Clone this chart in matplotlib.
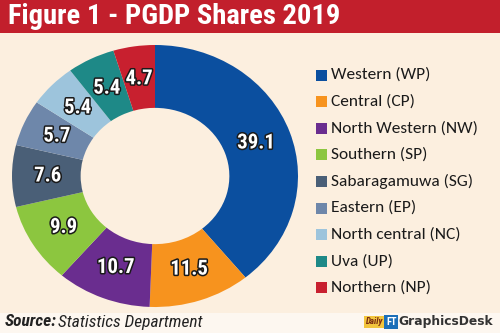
import matplotlib
matplotlib.use("Agg")
import matplotlib.pyplot as plt
import matplotlib.patheffects as pe
from matplotlib.patches import Rectangle

regions = ["Western (WP)", "Central (CP)", "North Western (NW)", "Southern (SP)",
           "Sabaragamuwa (SG)", "Eastern (EP)", "North central (NC)", "Uva (UP)",
           "Northern (NP)"]
shares = [39.1, 11.5, 10.7, 9.9, 7.6, 5.7, 5.4, 5.4, 4.7]
colors = ["#0b4f9f", "#f7931e", "#6a2d8f", "#8cc63f", "#4a5f77", "#6e87aa",
          "#9dc4dc", "#1e8987", "#c8202f"]
title = "Figure 1 - PGDP Shares 2019"

COND = ["Roboto Condensed", "Barlow Condensed", "DejaVu Sans"]
LEG = ["Carlito", "Lato", "DejaVu Sans"]

W, H = 500, 333
fig = plt.figure(figsize=(W / 100, H / 100), dpi=100)
fig.patch.set_facecolor("#fcefdf")

# banner
fig.patches.append(Rectangle((0, 1 - 33 / H), 1, 33 / H, transform=fig.transFigure,
                             facecolor="#c21f2c", edgecolor="none", zorder=0))
fig.text(8 / W, 1 - 17 / H, title, color="white", fontsize=20.5, fontweight="bold",
         family=COND, stretch="condensed", va="center", ha="left")
# footer
fig.patches.append(Rectangle((0, 0), 1, 20 / H, transform=fig.transFigure,
                             facecolor="#fdf7f0", edgecolor="none", zorder=0))

ax = fig.add_axes([12 / W, (H - 307) / H, 286 / W, 262 / H])
wedges, texts = ax.pie(shares, colors=colors, startangle=90, counterclock=False,
                       wedgeprops=dict(width=0.48, edgecolor="none"),
                       labels=[f"{v:.1f}" for v in shares], labeldistance=0.75,
                       textprops=dict(color="white", fontsize=15, fontweight="bold",
                                      family=COND, stretch="condensed"))
for t in texts:
    t.set_ha("center")
    t.set_va("center")
    t.set_path_effects([pe.withStroke(linewidth=2.2, foreground="#1a1a1a")])
ax.set_aspect("auto")
ax.set_xlim(-1, 1)
ax.set_ylim(-1, 1)
ax.axis("off")

# legend
y0 = 75
dy = 26.6
for i, (r, c) in enumerate(zip(regions, colors)):
    y = y0 + i * dy
    fig.patches.append(Rectangle((316 / W, 1 - (y + 5.5) / H), 11 / W, 11 / H,
                                 transform=fig.transFigure, facecolor=c,
                                 edgecolor="none"))
    fig.text(331 / W, 1 - y / H, r, fontsize=12.5, color="#1a1a1a",
             family=LEG, va="center", ha="left")

# footer text
fig.text(5 / W, 1 - 322 / H, "Source:", fontsize=12.5, fontweight="bold",
         style="italic", family=COND, stretch="condensed", color="#222222",
         va="center", ha="left")
fig.text(58 / W, 1 - 322 / H, "Statistics Department", fontsize=12.5,
         style="italic", family=COND, stretch="condensed", color="#222222",
         va="center", ha="left")

# logo
fig.text(366 / W, 1 - 322 / H, "Daily", fontsize=6.5, style="italic", fontweight="bold",
         family=COND, color="#7a2a10", va="center", ha="left",
         bbox=dict(boxstyle="square,pad=0.2", facecolor="#f2c53d", edgecolor="none"))
fig.text(386 / W, 1 - 322 / H, "FT", fontsize=7.5, fontweight="bold", color="white",
         family=COND, va="center", ha="left",
         bbox=dict(boxstyle="square,pad=0.15", facecolor="#1c6fb8", edgecolor="none"))
fig.text(398 / W, 1 - 322 / H, "GraphicsDesk", fontsize=8.8, fontweight="bold",
         family="DejaVu Sans", color="#333333", va="center", ha="left")

fig.savefig("out.png", dpi=100, facecolor=fig.get_facecolor())
